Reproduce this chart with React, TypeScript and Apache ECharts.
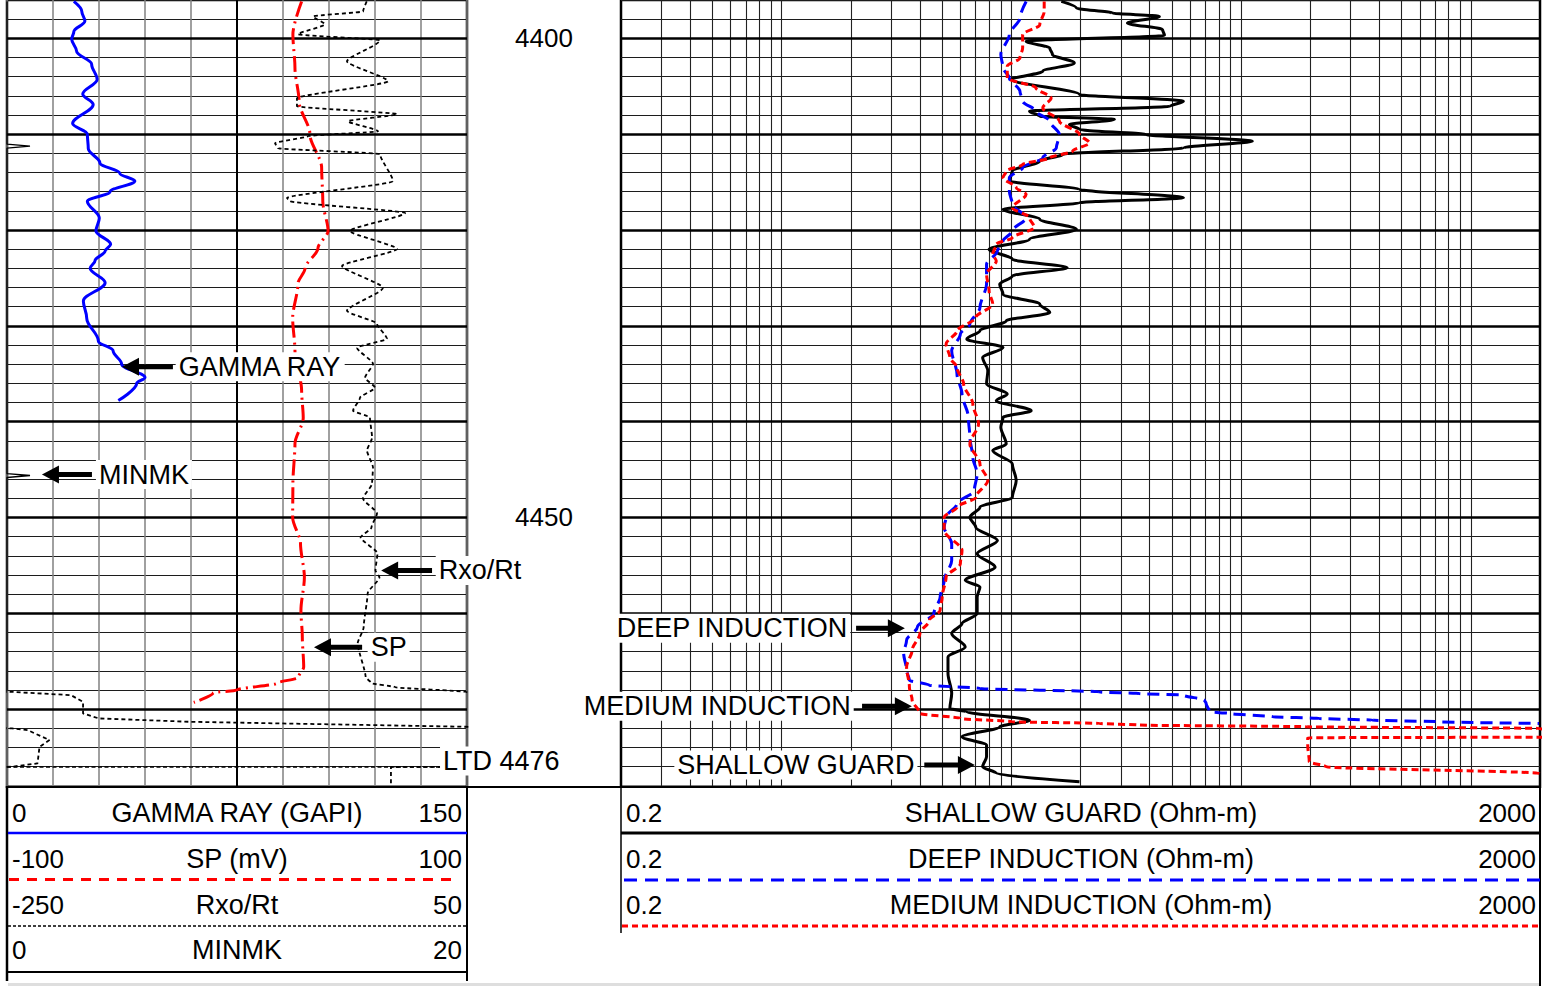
import { useEffect, useRef } from "react";
import * as echarts from "echarts";

// ---------------- depth axis ----------------
const DEPTH_MIN = 4396;
const DEPTH_MAX = 4478.1;
const majorDepths = [4400, 4410, 4420, 4430, 4440, 4450, 4460, 4470];
const depthLabels = [4400, 4450];

// ---------------- left track curves: [depth (ft), value] ----------------
const gammaRay: [number, number][] = [
  [4396.15, 21.8], [4397.2, 24.4], [4398.2, 25.4], [4399.3, 21.8], [4400.1, 21.1], [4401.35, 22.7],
  [4402.7, 27.6], [4404.3, 29.4], [4405.8, 24.7], [4406.9, 28.1], [4408.9, 21.4], [4410.0, 26.2],
  [4411.5, 26.5], [4413.0, 30.3], [4414.1, 36.8], [4414.9, 41.7], [4416.0, 33.6], [4417.0, 26.2],
  [4418.75, 30.1], [4420.1, 29.0], [4421.5, 33.8], [4422.2, 32.0], [4423.2, 28.7], [4424.0, 27.1],
  [4425.5, 32.0], [4427.4, 24.9], [4429.2, 26.0], [4431.6, 29.8], [4432.6, 34.6], [4434.0, 37.4],
  [4435.4, 45.0], [4436.0, 42.3], [4437.8, 36.3],
];

const spontaneousPotential: [number, number][] = [
  [4396.15, 28.1], [4399.6, 24.3], [4403.1, 25.2], [4406.6, 27.0], [4410.0, 31.7], [4413.5, 36.8],
  [4417.0, 37.3], [4420.1, 39.6], [4421.9, 35.2], [4424.0, 29.6], [4425.6, 26.5], [4429.2, 24.2],
  [4432.6, 25.2], [4436.8, 28.1], [4439.6, 28.8], [4442.3, 25.2], [4446.5, 24.3], [4450.0, 24.2],
  [4452.7, 27.6], [4456.25, 29.3], [4459.7, 27.8], [4462.5, 28.4], [4465.6, 29.0], [4466.7, 26.7],
  [4467.3, 17.3], [4468.0, 0], [4468.3, -10.3], [4469.3, -18.8],
];

const rxoRt: [number, number][] = [
  [4396.15, -15.4], [4397.19, -17.8], [4397.71, -50.4], [4398.54, -42.6], [4399.58, -60.2], [4400.21, -6.7],
  [4402.4, -28.3], [4404.48, -1.5], [4406.25, -60.9], [4407.08, -60.9], [4407.92, 4.4], [4408.65, -27.6],
  [4409.69, -8.0], [4410.21, -53.7], [4410.94, -75.2], [4411.46, -73.3], [4412.08, -6.7], [4414.9, 1.7],
  [4416.67, -67.4], [4416.98, -65.4], [4418.23, 9.6], [4420.1, -26.3], [4421.98, 4.4], [4423.75, -31.5],
  [4426.04, -4.8], [4428.44, -28.3], [4429.79, -8.7], [4431.35, -2.2], [4432.29, -21.7], [4433.96, -11.3],
  [4435.42, -16.5], [4436.46, -10.0], [4437.5, -19.8], [4438.85, -24.3], [4439.58, -13.3], [4441.67, -11.9],
  [4443.02, -15.2], [4444.79, -11.3], [4446.46, -11.9], [4448.02, -17.8], [4449.58, -8.7], [4451.04, -12.3],
  [4452.08, -19.4], [4453.75, -8.4], [4455.52, -9.7], [4456.25, -7.1], [4457.92, -14.8], [4461.46, -17.4],
  [4463.13, -21.3], [4466.67, -16.1], [4467.29, -12.3], [4467.71, 3.1], [4468.2, 49.4], [4468.33, 60],
  [4476.0, 60], [4476.04, 0.4], [4478.1, 0.4],
];
// wrapped (backup) traces of Rxo/Rt, as drawn on the -250..50 scale
const rxoRtWrap1: [number, number][] = [
  [4468.15, -262], [4468.2, -246.7], [4468.54, -208.3], [4469.24, -200.4], [4470.45, -200.4],
  [4470.97, -190.1], [4471.32, -130.8], [4471.84, 49.4], [4471.9, 60],
];
const rxoRtWrap2: [number, number][] = [
  [4471.95, -262], [4472.01, -246.7], [4472.19, -236.5], [4473.23, -222.3], [4473.93, -228.8],
  [4475.66, -230.1], [4476.01, -246.7], [4476.05, -262],
];

const minmk: [number, number][] = [
  [4396.15, 0], [4411.04, 0], [4411.25, 1.0], [4411.46, 0], [4445.42, 0], [4445.62, 1.0], [4445.83, 0], [4468.1, 0],
];

// ---------------- right track curves: [depth (ft), resistivity (ohm-m)] ----------------
const shallowGuard: [number, number][] = [
  [4396.15, 16.5], [4396.84, 19.2], [4397.36, 27.5], [4397.71, 44.1], [4398.41, 32.0], [4399.09, 45.5],
  [4399.69, 46.4], [4400.31, 11.6], [4401.01, 14.7], [4401.7, 15.1], [4402.57, 18.8], [4403.44, 13.7],
  [4404.3, 10.0], [4405.86, 19.8], [4406.56, 56.1], [4407.08, 49.2], [4407.6, 12.0], [4408.13, 13.3],
  [4408.47, 28.1], [4408.99, 17.9], [4409.51, 19.8], [4410.03, 38.6], [4410.73, 112], [4411.43, 56.1],
  [4412.11, 16.7], [4412.81, 13.3], [4413.85, 10.1], [4414.9, 9.8], [4415.76, 19.8], [4416.64, 56.1],
  [4417.16, 19.8], [4417.84, 9.2], [4418.89, 13.3], [4419.93, 19.2], [4420.97, 12.0], [4422.01, 8.0],
  [4423.05, 10.1], [4423.93, 17.5], [4424.79, 10.1], [4425.66, 8.9], [4426.7, 9.2], [4427.74, 13.3],
  [4428.61, 14.7], [4429.48, 9.5], [4430.52, 7.3], [4431.39, 6.4], [4432.26, 9.2], [4433.3, 7.5],
  [4434.69, 7.9], [4436.07, 7.8], [4437.11, 9.6], [4437.81, 8.6], [4438.85, 12.2], [4439.55, 9.2],
  [4440.59, 9.0], [4442.32, 9.5], [4443.02, 8.3], [4444.41, 10.1], [4446.15, 10.5], [4447.89, 10.1],
  [4448.93, 7.3], [4449.97, 6.6], [4451.01, 7.0], [4452.4, 8.7], [4453.78, 7.1], [4455.18, 8.5],
  [4456.56, 6.3], [4457.26, 7.3], [4458.3, 7.1], [4460.03, 7.1], [4461.07, 6.1], [4462.11, 5.5],
  [4463.51, 6.3], [4464.55, 5.3], [4466.28, 5.3], [4468.36, 5.5], [4469.93, 5.4], [4470.28, 6.4],
  [4471.15, 12.0], [4471.84, 8.9], [4472.89, 6.1], [4473.75, 7.8], [4474.97, 7.8], [4476.01, 7.5],
  [4476.7, 8.6], [4477.57, 19.8],
];

const deepInduction: [number, number][] = [
  [4396.15, 11.6], [4397.89, 10.9], [4399.61, 9.8], [4401.7, 9.0], [4403.09, 9.2], [4404.14, 9.8],
  [4405.52, 10.9], [4406.56, 11.2], [4407.6, 12.8], [4408.65, 14.7], [4410.03, 16.2], [4411.43, 15.7],
  [4412.47, 13.7], [4413.51, 11.2], [4414.55, 9.8], [4415.94, 9.8], [4417.32, 10.1], [4418.72, 11.6],
  [4420.1, 10.1], [4421.15, 9.2], [4422.19, 8.7], [4423.57, 7.8], [4425.66, 7.8], [4428.09, 7.3],
  [4429.82, 6.6], [4430.86, 6.0], [4432.6, 5.5], [4435.03, 5.8], [4437.11, 6.1], [4439.55, 6.5],
  [4441.64, 6.6], [4443.72, 6.8], [4445.45, 7.1], [4447.19, 6.9], [4448.57, 5.8], [4449.97, 5.2],
  [4451.01, 5.1], [4452.74, 5.5], [4454.48, 5.5], [4456.56, 5.1], [4458.3, 4.9], [4460.03, 4.6],
  [4461.43, 3.9], [4462.81, 3.5], [4464.2, 3.4], [4465.94, 3.5], [4466.98, 3.6], [4467.5, 4.4],
  [4467.84, 7.3], [4468.2, 24.2], [4468.37, 36.1], [4468.54, 56.1], [4469.06, 69.2], [4469.38, 70.4],
  [4470.28, 72.8], [4470.45, 88.9], [4470.8, 137], [4470.97, 219], [4471.15, 372], [4471.32, 727],
  [4471.49, 1980],
];

const mediumInduction: [number, number][] = [
  [4396.15, 13.9], [4397.19, 13.9], [4398.57, 13.3], [4399.61, 11.2], [4401.01, 11.2], [4402.05, 10.9],
  [4402.92, 9.6], [4404.14, 9.6], [4405.18, 12.8], [4406.22, 14.9], [4407.26, 13.7], [4408.65, 16.2],
  [4410.03, 19.8], [4410.91, 21.9], [4411.77, 18.5], [4412.47, 14.7], [4413.16, 11.2], [4413.85, 9.5],
  [4414.55, 9.2], [4415.59, 10.5], [4416.28, 11.6], [4417.68, 10.1], [4418.72, 12.0], [4419.76, 12.6],
  [4420.8, 10.1], [4421.49, 8.6], [4422.53, 8.3], [4423.23, 8.6], [4424.61, 7.8], [4426.35, 8.0],
  [4427.74, 8.3], [4429.14, 7.0], [4430.52, 5.8], [4431.91, 5.2], [4433.3, 5.4], [4434.34, 5.8],
  [4436.07, 6.2], [4438.16, 6.8], [4440.24, 7.2], [4442.32, 6.6], [4444.41, 7.3], [4446.15, 7.9],
  [4447.89, 7.0], [4448.93, 5.8], [4449.97, 5.1], [4451.35, 5.1], [4453.44, 6.1], [4454.82, 6.0],
  [4456.22, 5.2], [4458.3, 5.0], [4459.69, 4.9], [4460.73, 4.4], [4462.11, 4.0], [4463.85, 3.7],
  [4465.59, 3.5], [4467.68, 3.6], [4469.06, 3.7], [4470.45, 4.0], [4470.97, 6.0], [4471.32, 10.1],
  [4471.49, 24.2], [4471.66, 36.1], [4471.84, 192], [4472.01, 1980], [4472.5, 4000], [4472.9, 4000],
  [4472.99, 195], [4473.75, 195], [4475.49, 198], [4476.01, 234], [4476.7, 1980], [4476.9, 4000],
];

// ---------------- annotations ----------------
// left track positions in GAMMA RAY units (0..150)
const leftLabels = [
  { text: "GAMMA RAY", depth: 4434.27, tip: 37.5, tail: 54.1, textAt: 55.0 },
  { text: "MINMK", depth: 4445.52, tip: 11.4, tail: 27.7, textAt: 29.0 },
  { text: "Rxo/Rt", depth: 4455.52, tip: 122.0, tail: 138.6, textAt: 139.8 },
  { text: "SP", depth: 4463.54, tip: 100.1, tail: 115.8, textAt: 117.6 },
];
const ltdLabel = { text: "LTD 4476", depth: 4475.42, textAt: 141.2, lineDepth: 4476, lineEnd: 141.2 };
// right track positions in ohm-m
const rightLabels = [
  { text: "DEEP INDUCTION", depth: 4461.56, tip: 3.44, tail: 2.11, textAt: 1.99 },
  { text: "MEDIUM INDUCTION", depth: 4469.69, tip: 3.69, tail: 2.24, textAt: 2.06 },
  { text: "SHALLOW GUARD", depth: 4475.83, tip: 6.94, tail: 4.18, textAt: 3.9 },
];

// ---------------- header ----------------
const leftHeader = [
  { lo: "0", title: "GAMMA RAY (GAPI)", hi: "150" },
  { lo: "-100", title: "SP (mV)", hi: "100" },
  { lo: "-250", title: "Rxo/Rt", hi: "50" },
  { lo: "0", title: "MINMK", hi: "20" },
];
const rightHeader = [
  { lo: "0.2", title: "SHALLOW GUARD (Ohm-m)", hi: "2000" },
  { lo: "0.2", title: "DEEP INDUCTION (Ohm-m)", hi: "2000" },
  { lo: "0.2", title: "MEDIUM INDUCTION (Ohm-m)", hi: "2000" },
];

const FONT_FAMILY = '"Liberation Sans", Arial, sans-serif';
const FONT_WORD = `27px ${FONT_FAMILY}`;
const FONT_NUM = `26px ${FONT_FAMILY}`;

const toXY = (arr: [number, number][]) => arr.map(([d, v]) => [v, d]);

// log grid lines for resistivity track (0.2..2000)
const resGridValues: number[] = [];
for (const dec of [0.1, 1, 10, 100, 1000]) {
  for (let m = 1; m <= 9; m++) {
    const v = +(m * dec).toPrecision(3);
    if (v > 0.2 && v < 2000) resGridValues.push(v);
  }
}

const yAxisFor = (gridIndex: number) => ({
  type: "value",
  gridIndex,
  inverse: true,
  min: DEPTH_MIN,
  max: DEPTH_MAX,
  interval: 2,
  axisLine: { show: false },
  axisTick: { show: false },
  axisLabel: { show: false },
  splitLine: { show: true, lineStyle: { color: "#1c1c1c", width: 1 } },
});

const hiddenX = (gridIndex: number, min: number, max: number) => ({
  type: "value",
  gridIndex,
  min,
  max,
  show: false,
  splitLine: { show: false },
});

const majorMarks = majorDepths.map((d) => ({ yAxis: d, lineStyle: { color: "#000", width: 2.6, type: "solid" } }));

const curve = (name: string, data: [number, number][], xAxisIndex: number, yAxisIndex: number, lineStyle: any, smooth: number | boolean, extra: any = {}) => ({
  name,
  type: "line",
  xAxisIndex,
  yAxisIndex,
  data: toXY(data),
  showSymbol: false,
  symbol: "none",
  smooth,
  smoothMonotone: "y",
  silent: true,
  z: 10,
  clip: true,
  lineStyle,
  emphasis: { disabled: true },
  ...extra,
});

const option: any = {
  animation: false,
  backgroundColor: "#fff",
  grid: [
    { left: 7, top: -1.4, width: 460, height: 788.16, show: true, borderColor: "#000", borderWidth: 2.5, backgroundColor: "transparent" },
    { left: 621, top: -1.4, width: 919, height: 788.16, show: true, borderColor: "#000", borderWidth: 2.5, backgroundColor: "transparent" },
  ],
  xAxis: [
    {
      type: "value",
      gridIndex: 0,
      min: 0,
      max: 150,
      interval: 15,
      axisLine: { show: false },
      axisTick: { show: false },
      axisLabel: { show: false },
      splitLine: { show: true, lineStyle: { color: "#808080", width: 1.5 } },
    },
    hiddenX(0, -100, 100),
    hiddenX(0, -250, 50),
    hiddenX(0, 0, 20),
    { type: "log", gridIndex: 1, min: 0.2, max: 2000, logBase: 10, show: false, splitLine: { show: false } },
  ],
  yAxis: [yAxisFor(0), yAxisFor(1)],
  series: [
    curve("GAMMA RAY", gammaRay, 0, 0, { color: "#0000ff", width: 3 }, 0.35, {
      markLine: {
        silent: true,
        symbol: "none",
        z: 3,
        label: { show: false },
        emphasis: { disabled: true },
        data: [
          ...majorMarks,
          { xAxis: 75, lineStyle: { color: "#000", width: 2, type: "solid" } },
          [
            { coord: [0, ltdLabel.lineDepth], lineStyle: { color: "#000", width: 1.6, type: [4, 2.5] } },
            { coord: [ltdLabel.lineEnd, ltdLabel.lineDepth] },
          ],
        ],
      },
    }),
    curve("SP", spontaneousPotential, 1, 0, { color: "#ff0000", width: 3, type: [16, 5, 2, 5] }, 0.3),
    curve("Rxo/Rt", rxoRt, 2, 0, { color: "#000", width: 1.8, type: [4, 3] }, 0.2),
    curve("Rxo/Rt backup 1", rxoRtWrap1, 2, 0, { color: "#000", width: 1.8, type: [4, 3] }, false),
    curve("Rxo/Rt backup 2", rxoRtWrap2, 2, 0, { color: "#000", width: 1.8, type: [4, 3] }, false),
    curve("MINMK", minmk, 3, 0, { color: "#000", width: 1.3 }, false),
    curve("SHALLOW GUARD", shallowGuard, 4, 1, { color: "#000", width: 3 }, 0.3, {
      markLine: {
        silent: true,
        symbol: "none",
        z: 3,
        label: { show: false },
        emphasis: { disabled: true },
        data: [
          ...resGridValues.map((v) => ({ xAxis: v, lineStyle: { color: "#222", width: 1.1, type: "solid" } })),
          ...majorMarks,
        ],
      },
    }),
    curve("DEEP INDUCTION", deepInduction, 4, 1, { color: "#0000ff", width: 3, type: [12, 7] }, 0.3),
    curve("MEDIUM INDUCTION", mediumInduction, 4, 1, { color: "#ff0000", width: 3, type: [7, 4] }, 0.3),
  ],
};

export default function App() {
  const ref = useRef<HTMLDivElement>(null);

  useEffect(() => {
    document.body.style.margin = "0";
    document.body.style.overflow = "hidden";
    const chart = echarts.init(ref.current!, null, { renderer: "svg" });
    chart.setOption(option);

    const px = (seriesIndex: number, x: number, d: number) =>
      chart.convertToPixel({ seriesIndex }, [x, d]) as unknown as number[];

    const els: any[] = [];
    const line = (x1: number, y1: number, x2: number, y2: number, stroke: string, lineWidth: number, lineDash?: number[]) => {
      const style: any = { stroke, lineWidth };
      if (lineDash) style.lineDash = lineDash;
      els.push({ type: "line", z: 50, silent: true, shape: { x1, y1, x2, y2 }, style });
    };
    const text = (t: string, x: number, y: number, align: string, font: string, extra: any = {}) => {
      els.push({
        type: "text",
        z: 80,
        silent: true,
        x,
        y,
        style: {
          text: t,
          fill: "#000",
          font,
          align,
          verticalAlign: "middle",
          textAlign: align,
          textVerticalAlign: "middle",
          ...extra,
        },
      });
    };
    const arrow = (tipX: number, tailX: number, y: number) => {
      const dir = tailX > tipX ? 1 : -1;
      const hx = tipX + dir * 17;
      els.push({
        type: "polygon",
        z: 90,
        silent: true,
        shape: {
          points: [
            [tipX, y], [hx, y - 9], [hx, y - 2.5], [tailX, y - 2.5],
            [tailX, y + 2.5], [hx, y + 2.5], [hx, y + 9],
          ],
        },
        style: { fill: "#000" },
      });
    };

    // depth labels
    depthLabels.forEach((d) => {
      const p = px(0, 0, d);
      text(String(d), 544, p[1], "center", FONT_NUM);
    });

    // in-track annotations
    const bg = { backgroundColor: "#fff", padding: [1, 3] };
    leftLabels.forEach((a) => {
      const tip = px(0, a.tip, a.depth);
      const tail = px(0, a.tail, a.depth);
      const tx = px(0, a.textAt, a.depth);
      text(a.text, tx[0], tip[1], "left", FONT_WORD, bg);
      arrow(tip[0], tail[0], tip[1]);
    });
    {
      const t = px(0, ltdLabel.textAt, ltdLabel.depth);
      text(ltdLabel.text, t[0], t[1], "left", FONT_WORD, bg);
    }
    rightLabels.forEach((a) => {
      const tip = px(6, a.tip, a.depth);
      const tail = px(6, a.tail, a.depth);
      const tx = px(6, a.textAt, a.depth);
      text(a.text, tx[0], tip[1], "right", FONT_WORD, bg);
      arrow(tip[0], tail[0], tip[1]);
    });

    // header frame
    line(7, 787, 1540, 787, "#000", 2);
    line(7, 786, 7, 981, "#000", 2.5);
    line(467, 786, 467, 981, "#000", 2);
    line(621, 786, 621, 933, "#000", 1.5);
    line(1540, 786, 1540, 986, "#000", 2);
    line(8, 833, 467, 833, "#0000ff", 2.5);
    line(9, 879.5, 456, 879.5, "#ff0000", 3, [10, 8]);
    line(8, 926, 467, 926, "#000", 1.5, [3, 2]);
    line(7, 972, 467, 972, "#000", 2);
    line(621, 833, 1540, 833, "#000", 3);
    line(624, 880, 1540, 880, "#0000ff", 3, [13, 8]);
    line(622, 926, 1540, 926, "#ff0000", 3, [6, 4]);
    els.push({ type: "rect", z: 40, silent: true, shape: { x: 8, y: 983, width: 1532, height: 3 }, style: { fill: "#dedede" } });

    const rowY = [812.5, 858.5, 904.5, 950];
    leftHeader.forEach((h, i) => {
      text(h.lo, 12, rowY[i], "left", FONT_NUM);
      text(h.title, 237, rowY[i], "center", FONT_WORD);
      text(h.hi, 462, rowY[i], "right", FONT_NUM);
    });
    rightHeader.forEach((h, i) => {
      text(h.lo, 626, rowY[i], "left", FONT_NUM);
      text(h.title, 1081, rowY[i], "center", FONT_WORD);
      text(h.hi, 1536, rowY[i], "right", FONT_NUM);
    });

    chart.setOption({ graphic: { elements: els } });

    return () => chart.dispose();
  }, []);

  return <div ref={ref} style={{ width: 1554, height: 986 }} />;
}
